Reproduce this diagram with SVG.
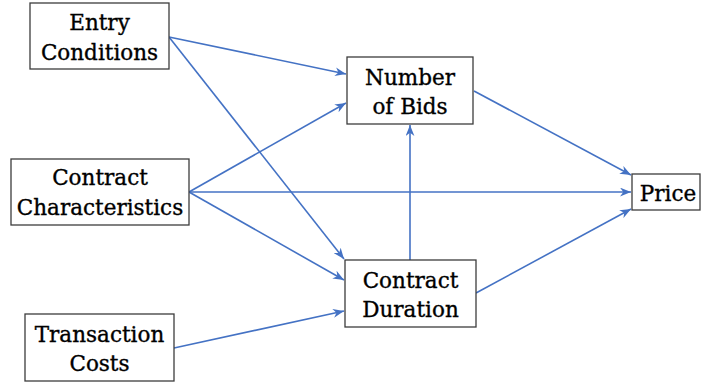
<svg xmlns="http://www.w3.org/2000/svg" width="701" height="383" viewBox="0 0 701 383">
  <style>
    .box { fill: #ffffff; stroke: #3c3c3c; stroke-width: 1.3; }
    .lbl { font-family: "DejaVu Serif", "Liberation Serif", serif; font-size: 21.5px; fill: #000000; stroke: #000000; stroke-width: 0.35; text-anchor: middle; }
    .edge { stroke: #4472c4; stroke-width: 1.6; fill: none; marker-end: url(#arrow); }
  </style>
  <defs>
    <marker id="arrow" viewBox="0 0 10 8" refX="10" refY="4" markerWidth="11" markerHeight="9" markerUnits="userSpaceOnUse" orient="auto">
      <path d="M0,0 L10,4 L0,8 L3,4 z" fill="#4472c4"/>
    </marker>
  </defs>

  <g id="connectors">
    <line class="edge" x1="169" y1="37" x2="346" y2="74"/>
    <line class="edge" x1="169" y1="37" x2="344" y2="259"/>
    <line class="edge" x1="189" y1="192" x2="346" y2="103"/>
    <line class="edge" x1="189" y1="192" x2="631" y2="192"/>
    <line class="edge" x1="189" y1="192" x2="344" y2="280"/>
    <line class="edge" x1="174" y1="348" x2="344" y2="311"/>
    <line class="edge" x1="410" y1="260" x2="410" y2="125"/>
    <line class="edge" x1="474" y1="91" x2="631" y2="175"/>
    <line class="edge" x1="476" y1="293" x2="631" y2="209"/>
  </g>

  <g id="entry-conditions">
    <rect class="box" x="30" y="3" width="139" height="66"/>
    <text class="lbl" x="99.5" y="30">Entry</text>
    <text class="lbl" x="99.5" y="60">Conditions</text>
  </g>

  <g id="contract-characteristics">
    <rect class="box" x="11" y="159" width="178" height="66"/>
    <text class="lbl" x="100" y="185">Contract</text>
    <text class="lbl" x="100" y="215">Characteristics</text>
  </g>

  <g id="transaction-costs">
    <rect class="box" x="25" y="314" width="149" height="67"/>
    <text class="lbl" x="99.5" y="342">Transaction</text>
    <text class="lbl" x="99.5" y="371">Costs</text>
  </g>

  <g id="number-of-bids">
    <rect class="box" x="347" y="57" width="126" height="67"/>
    <text class="lbl" x="410" y="85">Number</text>
    <text class="lbl" x="410" y="114">of Bids</text>
  </g>

  <g id="contract-duration">
    <rect class="box" x="345" y="260" width="131" height="67"/>
    <text class="lbl" x="410.5" y="288">Contract</text>
    <text class="lbl" x="410.5" y="317">Duration</text>
  </g>

  <g id="price">
    <rect class="box" x="632" y="174" width="68" height="36"/>
    <text class="lbl" x="668" y="201">Price</text>
  </g>
</svg>
